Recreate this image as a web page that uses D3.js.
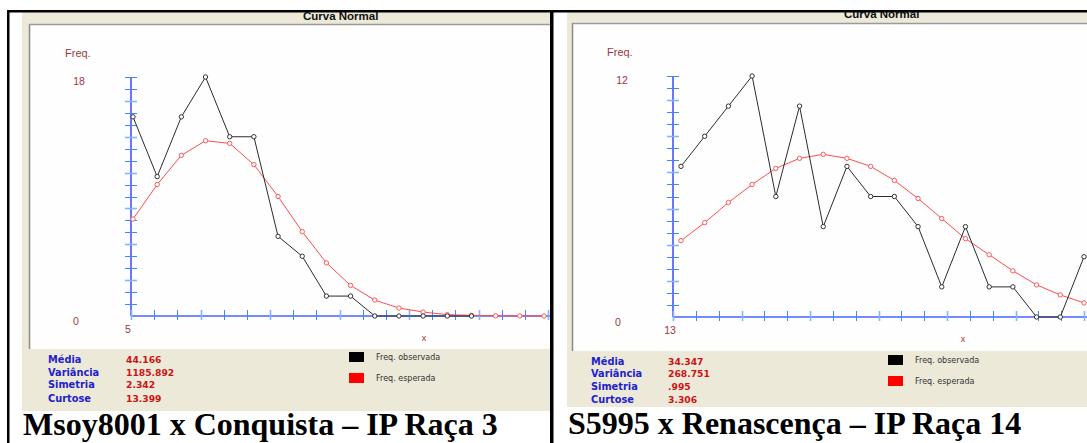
<!DOCTYPE html>
<html>
<head>
<meta charset="utf-8">
<script src="https://cdn.jsdelivr.net/npm/d3@7"></script>
<style>
  body { margin: 0; background: #fff; }
  svg { display: block; }
</style>
</head>
<body>
<div id="chart"></div>
<script>
// ---- data ----
// left panel: Msoy8001 x Conquista
const observed1 = [15, 10.5, 15, 18, 13.5, 13.5, 6, 4.5, 1.5, 1.5, 0, 0, 0, 0, 0];
const expected1 = [7.3, 9.9, 12.1, 13.2, 13.0, 11.4, 9.0, 6.35, 4.0, 2.3, 1.2, 0.6, 0.3, 0.1, 0.05, 0.02, 0.01, 0];
const stats1 = ["44.166", "1185.892", "2.342", "13.399"];
const yMax1 = 18;
const xStart1 = "5";
const caption1 = "Msoy8001 x Conquista \u2013 IP Ra\u00e7a 3";

// right panel: S5995 x Renascença
const observed2 = [7.5, 9, 10.5, 12, 6, 10.5, 4.5, 7.5, 6, 6, 4.5, 1.5, 4.5, 1.5, 1.5, 0, 0, 3];
const expected2 = [3.8, 4.7, 5.7, 6.6, 7.4, 7.9, 8.1, 7.9, 7.5, 6.8, 5.9, 4.9, 3.9, 3.1, 2.3, 1.6, 1.1, 0.7];
const stats2 = ["34.347", "268.751", ".995", "3.306"];
const yMax2 = 12;
const xStart2 = "13";
const caption2 = "S5995 x Renascen\u00e7a \u2013 IP Ra\u00e7a 14";

const statLabels = ["M\u00e9dia", "Vari\u00e2ncia", "Simetria", "Curtose"];
const legendLabels = ["Freq. observada", "Freq. esperada"];
const nClasses = 18;   // points per curve slot
const nTicks = 20;     // y ticks
const nXTicks = 18;    // x ticks

const width = 1087, height = 443;
const svg = d3.select("#chart").append("svg")
  .attr("width", width)
  .attr("height", height);

const beige = "#ece9d8";

function drawPanel(p, observed, expected, stats, yMax, xStart, caption) {
  const g = svg.append("g");

  // window frame + title bar
  g.append("rect")
    .attr("x", p.frameX).attr("y", p.frameY)
    .attr("width", p.frameR - p.frameX).attr("height", p.frameB - p.frameY)
    .attr("fill", beige);
  g.append("text")
    .attr("x", p.titleX).attr("y", p.titleY)
    .attr("font-family", "Liberation Sans, Arial, sans-serif")
    .attr("font-weight", "bold")
    .attr("font-size", "11.5px")
    .attr("fill", "#111")
    .text("Curva Normal");

  // white plot area with sunken edge
  g.append("rect")
    .attr("x", p.plotX).attr("y", p.plotY)
    .attr("width", p.frameR - p.plotX).attr("height", p.plotB - p.plotY)
    .attr("fill", "#fefefe");
  g.append("line")
    .attr("x1", p.plotX - 0.5).attr("x2", p.plotX - 0.5)
    .attr("y1", p.plotY - 1).attr("y2", p.plotB)
    .attr("stroke", "#8a8a8a").attr("stroke-width", 1.5);
  g.append("line")
    .attr("x1", p.plotX - 1).attr("x2", p.frameR)
    .attr("y1", p.plotY - 0.5).attr("y2", p.plotY - 0.5)
    .attr("stroke", "#9a9a9a").attr("stroke-width", 1.5);

  // scales
  const y = d3.scaleLinear().domain([0, yMax]).range([p.y0, p.yTop]);
  const x = d3.scaleLinear().domain([0, nClasses - 1]).range([p.px0, p.px1]);
  const xt = d3.scaleLinear().domain([0, nXTicks]).range([p.ax, p.axEnd]);
  const yTickVals = d3.range(1, nTicks + 1).map(k => yMax * k / nTicks);

  // axes
  const axes = g.append("g");
  axes.append("line")
    .attr("x1", p.ax).attr("x2", p.ax)
    .attr("y1", y(yMax)).attr("y2", p.y0)
    .attr("stroke", "#6f74ff").attr("stroke-width", 2);
  axes.selectAll(".yt")
    .data(yTickVals)
    .join("line")
      .attr("class", "yt")
      .attr("x1", p.ax - 6).attr("x2", p.ax + 6)
      .attr("y1", d => Math.round(y(d)) + 0.5)
      .attr("y2", d => Math.round(y(d)) + 0.5)
      .attr("stroke", (d, i) => (i % 3 == 2 ? "#7fb6ff" : "#3d88ff"))
      .attr("stroke-width", (d, i) => (i % 3 == 2 ? 1.6 : 1));
  axes.append("line")
    .attr("x1", p.ax).attr("x2", p.frameR)
    .attr("y1", p.y0).attr("y2", p.y0)
    .attr("stroke", "#4863ff").attr("stroke-width", 1.5);
  axes.selectAll(".xt")
    .data(d3.range(0, nXTicks + 1))
    .join("line")
      .attr("class", "xt")
      .attr("x1", d => Math.round(xt(d)) + 0.5)
      .attr("x2", d => Math.round(xt(d)) + 0.5)
      .attr("y1", p.y0 - 6).attr("y2", p.y0 + 4)
      .attr("stroke", (d, i) => (i % 3 == 0 ? "#7fb6ff" : "#3d88ff"))
      .attr("stroke-width", (d, i) => (i % 3 == 0 ? 1.6 : 1));

  // axis labels
  const labFont = "Liberation Sans, Arial, sans-serif";
  const labCol = "#9b3a3a";
  g.append("text").attr("x", p.freqX).attr("y", y(yMax) - 20)
    .attr("font-family", labFont).attr("font-size", "11px").attr("fill", labCol)
    .text("Freq.");
  g.append("text").attr("x", p.numX).attr("y", y(yMax) + 8)
    .attr("text-anchor", "middle")
    .attr("font-family", labFont).attr("font-size", "10.5px").attr("fill", labCol)
    .text(yMax);
  g.append("text").attr("x", p.zeroX).attr("y", y(0) + 9)
    .attr("text-anchor", "middle")
    .attr("font-family", labFont).attr("font-size", "10.5px").attr("fill", labCol)
    .text("0");
  g.append("text").attr("x", p.ax - 3).attr("y", y(0) + 17)
    .attr("text-anchor", "middle")
    .attr("font-family", labFont).attr("font-size", "10.5px").attr("fill", labCol)
    .text(xStart);
  g.append("text").attr("x", p.xLabX).attr("y", y(0) + 25)
    .attr("text-anchor", "middle")
    .attr("font-family", labFont).attr("font-size", "9px").attr("fill", "#b03030")
    .text("x");

  // curves
  const line = d3.line().x((d, i) => x(i)).y(d => y(d));
  const curves = g.append("g");

  curves.append("path")
    .datum(expected)
    .attr("d", line)
    .attr("fill", "none")
    .attr("stroke", "#ff4d4d")
    .attr("stroke-width", 1);
  curves.selectAll(".pe")
    .data(expected)
    .join("circle")
      .attr("class", "pe")
      .attr("cx", (d, i) => x(i)).attr("cy", d => y(d))
      .attr("r", 2.2)
      .attr("fill", "#fff")
      .attr("stroke", "#ff5a5a")
      .attr("stroke-width", 1);

  curves.append("path")
    .datum(observed)
    .attr("d", line)
    .attr("fill", "none")
    .attr("stroke", "#2b2b2b")
    .attr("stroke-width", 1);
  curves.selectAll(".po")
    .data(observed)
    .join("circle")
      .attr("class", "po")
      .attr("cx", (d, i) => x(i)).attr("cy", d => y(d))
      .attr("r", 2.2)
      .attr("fill", "#fff")
      .attr("stroke", "#333")
      .attr("stroke-width", 1);

  // stats block
  const statFont = "DejaVu Sans, Verdana, sans-serif";
  g.selectAll(".sl")
    .data(statLabels)
    .join("text")
      .attr("class", "sl")
      .attr("x", p.statX)
      .attr("y", (d, i) => p.statY[i])
      .attr("font-family", statFont).attr("font-weight", "bold")
      .attr("font-size", "9.8px").attr("fill", "#2222cc")
      .text(d => d);
  g.selectAll(".sv")
    .data(stats)
    .join("text")
      .attr("class", "sv")
      .attr("x", p.valX)
      .attr("y", (d, i) => p.statY[i])
      .attr("font-family", statFont).attr("font-weight", "bold")
      .attr("font-size", "9.2px").attr("fill", "#cc1414")
      .text(d => d);

  // legend
  const legColors = ["#000", "#ff0000"];
  legendLabels.forEach((lab, i) => {
    g.append("rect")
      .attr("x", p.legX).attr("y", p.legY[i])
      .attr("width", 15).attr("height", 10)
      .attr("fill", legColors[i]);
    g.append("text")
      .attr("x", p.legX + 27).attr("y", p.legY[i] + 8)
      .attr("font-family", "DejaVu Sans, sans-serif")
      .attr("font-size", "8px").attr("fill", "#333")
      .text(lab);
  });

  // caption below the window
  g.append("text")
    .attr("x", p.capX).attr("y", p.capY)
    .attr("font-family", "Liberation Serif, Times New Roman, serif")
    .attr("font-weight", "bold")
    .attr("font-size", "32px")
    .attr("fill", "#000")
    .text(caption);
}

drawPanel({
  frameX: 22, frameY: 12, frameR: 550, frameB: 411,
  titleX: 303, titleY: 20,
  plotX: 30, plotY: 25, plotB: 349,
  ax: 131, axEnd: 548, y0: 316, yTop: 77,
  px0: 133, px1: 544,
  freqX: 65, numX: 79, zeroX: 76, xLabX: 424,
  statX: 48, valX: 126, statY: [363, 376, 388, 402],
  legX: 349, legY: [352, 373],
  capX: 23, capY: 435
}, observed1, expected1, stats1, yMax1, xStart1, caption1);

drawPanel({
  frameX: 567, frameY: 12, frameR: 1087, frameB: 407,
  titleX: 844, titleY: 17.5,
  plotX: 573, plotY: 24, plotB: 351,
  ax: 673, axEnd: 1084, y0: 317, yTop: 76,
  px0: 681, px1: 1084,
  freqX: 607, numX: 622, zeroX: 618, xLabX: 963,
  statX: 591, valX: 668, statY: [365, 377, 390, 403],
  legX: 888, legY: [355, 376],
  capX: 568, capY: 434
}, observed2, expected2, stats2, yMax2, xStart2, caption2);

// table borders
const borders = svg.append("g").attr("fill", "#000");
borders.append("rect").attr("x", 7).attr("y", 10).attr("width", width - 7).attr("height", 2.5);
borders.append("rect").attr("x", 7).attr("y", 10).attr("width", 2.5).attr("height", height - 10);
borders.append("rect").attr("x", 550).attr("y", 10).attr("width", 3.5).attr("height", height - 10);
</script>
</body>
</html>
